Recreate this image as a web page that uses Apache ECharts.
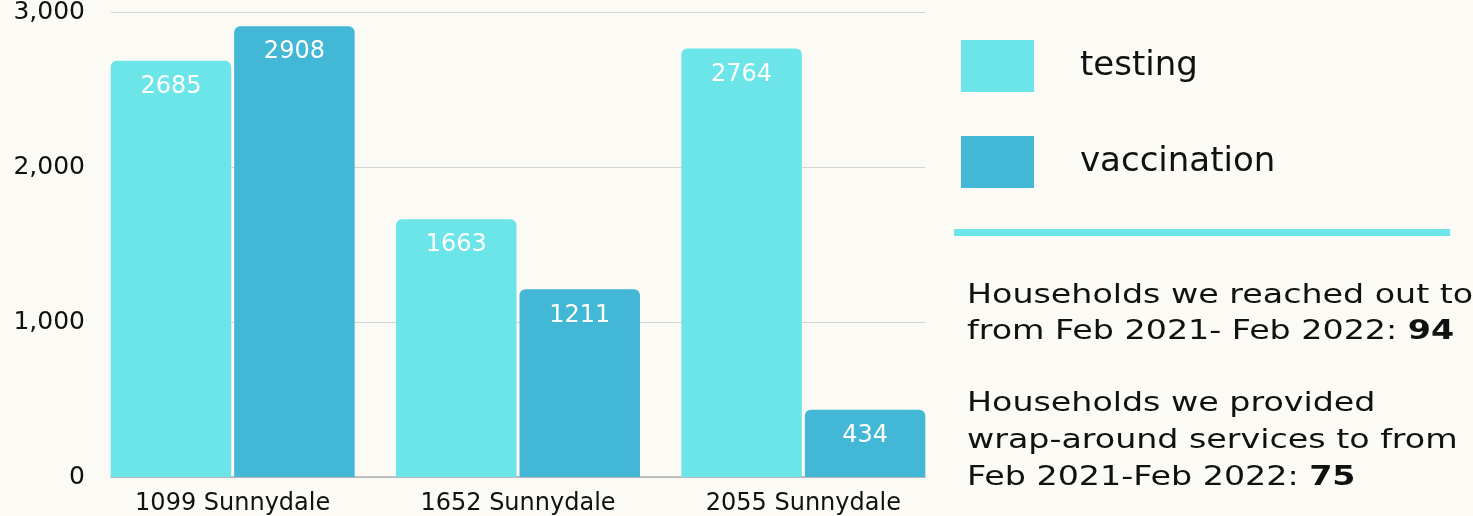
<!DOCTYPE html>
<html>
<head>
<meta charset="utf-8">
<script src="https://cdn.jsdelivr.net/npm/echarts@6/dist/echarts.min.js"></script>
<style>
  html, body { margin: 0; padding: 0; background: #fbfaf5; }
  #main { width: 1473px; height: 516px; }
</style>
</head>
<body>
<div id="main"></div>
<script>
// data
var categories = ['1099 Sunnydale', '1652 Sunnydale', '2055 Sunnydale'];
var testing = [2685, 1663, 2764];
var vaccination = [2908, 1211, 434];
var seriesNames = ['testing', 'vaccination'];
var reachedOut = 94;
var wrapAround = 75;

var font = 'DejaVu Sans';
var cTesting = '#6be5e8';
var cVacc = '#42b7d6';
// the original uses a wide font, stretch side text to match
var stretch = 1.28;

var myChart = echarts.init(document.getElementById('main'));

var option = {
  backgroundColor: '#fbfaf5',
  animation: false,
  textStyle: { fontFamily: font },
  grid: [
    // bars: widened so the bar groups sit flush with the axis ends
    { left: 90, right: 527, top: 12, bottom: 39 },
    // axes + gridlines
    { left: 111, right: 548, top: 12, bottom: 39 }
  ],
  xAxis: [
    {
      gridIndex: 0, type: 'category', data: categories,
      axisLine: { show: false }, axisTick: { show: false },
      axisLabel: { color: '#111', fontSize: 24, margin: 15, fontFamily: font }
    },
    {
      gridIndex: 1, type: 'value', min: 0, max: 1,
      axisLine: { show: true, lineStyle: { color: '#b0b0b0', width: 1.5 } },
      axisTick: { show: false }, axisLabel: { show: false }, splitLine: { show: false }
    }
  ],
  yAxis: [
    {
      gridIndex: 0, type: 'value', min: 0, max: 3000, interval: 1000,
      axisLine: { show: false }, axisTick: { show: false },
      axisLabel: { show: false }, splitLine: { show: false }
    },
    {
      gridIndex: 1, type: 'value', min: 0, max: 3000, interval: 1000,
      axisLine: { show: false }, axisTick: { show: false },
      axisLabel: {
        color: '#111', fontSize: 25, margin: 26, fontFamily: font, padding: [6, 0, 0, 0],
        formatter: function (v) { return v.toLocaleString('en-US'); }
      },
      splitLine: { lineStyle: { color: '#d4d4d4', width: 1 } }
    }
  ],
  legend: {
    orient: 'vertical',
    left: 956, top: 35,
    itemWidth: 73, itemHeight: 52, itemGap: 44,
    icon: 'rect',
    data: seriesNames,
    textStyle: { fontSize: 34, color: '#111', fontFamily: font, padding: [0, 0, 0, 41] }
  },
  series: [
    {
      name: seriesNames[0], type: 'bar', xAxisIndex: 0, yAxisIndex: 0,
      data: testing,
      barCategoryGap: '14.5%', barGap: '2.5%',
      itemStyle: { color: cTesting, borderRadius: [6, 6, 0, 0] },
      label: { show: true, position: 'insideTop', distance: 14, color: '#fff', fontSize: 24, fontFamily: font }
    },
    {
      name: seriesNames[1], type: 'bar', xAxisIndex: 0, yAxisIndex: 0,
      data: vaccination,
      barCategoryGap: '14.5%', barGap: '2.5%',
      itemStyle: { color: cVacc, borderRadius: [6, 6, 0, 0] },
      label: { show: true, position: 'insideTop', distance: 14, color: '#fff', fontSize: 24, fontFamily: font }
    }
  ],
  graphic: [
    {
      type: 'rect', left: 954, top: 229,
      shape: { width: 496, height: 7 },
      style: { fill: cTesting }
    },
    {
      type: 'text', x: 967, y: 278, scaleX: stretch,
      style: {
        text: 'Households we reached out to\nfrom Feb 2021- Feb 2022: {b|' + reachedOut + '}',
        font: '26px "' + font + '"', fill: '#111', lineHeight: 36, verticalAlign: 'top',
        rich: { b: { fontWeight: 'bold', fontSize: 26, fontFamily: font, fill: '#111', lineHeight: 36 } }
      }
    },
    {
      type: 'text', x: 967, y: 386, scaleX: stretch,
      style: {
        text: 'Households we provided\nwrap-around services to from\nFeb 2021-Feb 2022: {b|' + wrapAround + '}',
        font: '26px "' + font + '"', fill: '#111', lineHeight: 37, verticalAlign: 'top',
        rich: { b: { fontWeight: 'bold', fontSize: 26, fontFamily: font, fill: '#111', lineHeight: 37 } }
      }
    }
  ]
};

option && myChart.setOption(option);

window.addEventListener('resize', function () {
  myChart.resize();
});
</script>
</body>
</html>
